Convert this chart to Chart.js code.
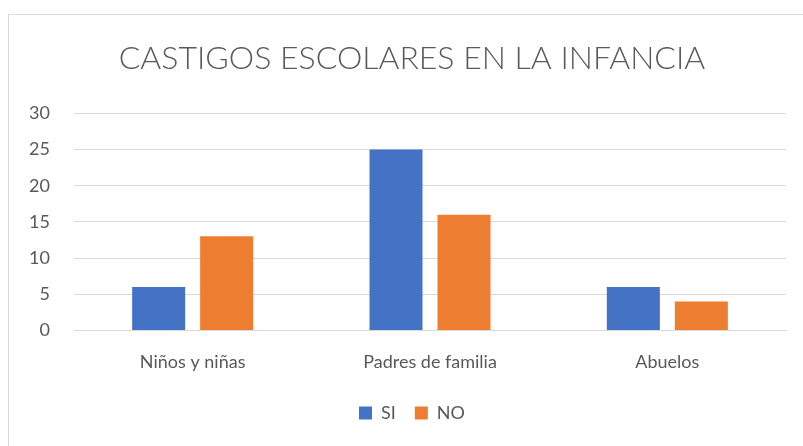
<!DOCTYPE html>
<html>
<head>
<meta charset="utf-8">
<script src="https://cdn.jsdelivr.net/npm/chart.js@4/dist/chart.umd.min.js"></script>
<style>
  html, body { margin: 0; padding: 0; background: #fff; }
  #wrap { position: relative; width: 803px; height: 446px; overflow: hidden; }
  #frame { position: absolute; left: 8px; top: 14px; width: 820px; height: 460px; border: 1px solid #d9d9d9; box-sizing: border-box; }
  canvas { position: absolute; left: 0; top: 0; }
</style>
</head>
<body>
<div id="wrap">
  <div id="frame"></div>
  <canvas id="castigosChart" width="803" height="446"></canvas>
</div>
<script>
var categorias = ["Niños y niñas", "Padres de familia", "Abuelos"];
var valoresSI = [6, 25, 6];
var valoresNO = [13, 16, 4];
var ticksY = [0, 5, 10, 15, 20, 25, 30];

// the y labels sit left of the layout padding, so widen their clip box
var unclipYLabels = {
  id: "unclipYLabels",
  afterLayout: function (chart) {
    chart.scales.y.left = 0;
  },
};

document.addEventListener("DOMContentLoaded", function () {
  var ctx = document.getElementById("castigosChart").getContext("2d");
  var textColor = "#595959";
  var fontFamily = "Lato, 'Open Sans', sans-serif";

  new Chart(ctx, {
    type: "bar",
    data: {
      labels: categorias,
      datasets: [
        {
          label: "SI",
          data: valoresSI,
          backgroundColor: "#4472C4",
          categoryPercentage: 0.573,
          barPercentage: 0.78,
        },
        {
          label: "NO",
          data: valoresNO,
          backgroundColor: "#ED7D31",
          categoryPercentage: 0.573,
          barPercentage: 0.78,
        },
      ],
    },
    plugins: [unclipYLabels],
    options: {
      responsive: false,
      animation: false,
      layout: {
        padding: { left: 38, right: 17, top: 0, bottom: 14 },
      },
      plugins: {
        title: {
          display: true,
          text: "CASTIGOS ESCOLARES EN LA INFANCIA",
          color: textColor,
          font: { family: fontFamily, size: 32, weight: "300" },
          padding: { top: 39, bottom: 36 },
        },
        legend: {
          position: "bottom",
          labels: {
            color: textColor,
            font: { family: fontFamily, size: 18 },
            boxWidth: 13,
            boxHeight: 13,
            padding: 19,
          },
        },
        tooltip: { enabled: false },
      },
      scales: {
        x: {
          grid: { display: false },
          border: { color: "#d9d9d9" },
          ticks: {
            color: textColor,
            font: { family: fontFamily, size: 18 },
            padding: 12.5,
          },
        },
        y: {
          min: 0,
          max: 30,
          afterFit: function (axis) {
            axis.width = 36;
          },
          afterBuildTicks: function (axis) {
            axis.ticks = ticksY.map(function (v) {
              return { value: v };
            });
          },
          grid: { color: "#d9d9d9", drawTicks: false },
          border: { display: false },
          ticks: {
            color: textColor,
            font: { family: fontFamily, size: 18 },
            padding: 24,
          },
        },
      },
    },
  });
});
</script>
</body>
</html>
